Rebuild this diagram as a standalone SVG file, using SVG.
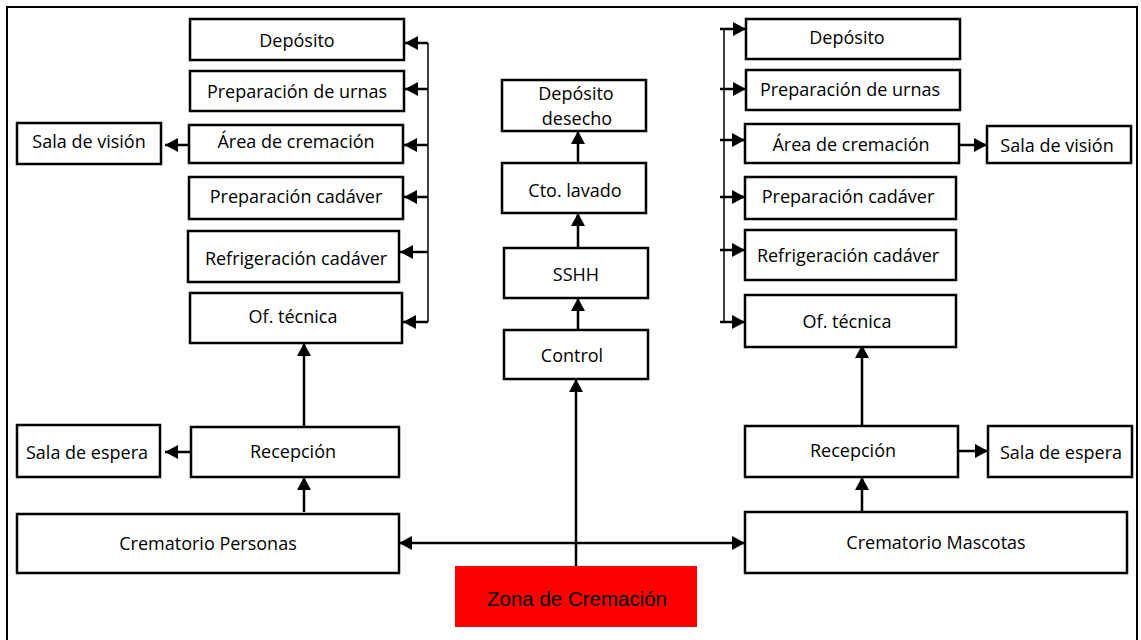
<svg xmlns="http://www.w3.org/2000/svg" width="1141" height="640" viewBox="0 0 1141 640">
<defs>
<style>
.box{fill:#fff;stroke:#000;stroke-width:2.5}
.t{font-family:"Open Sans","Noto Sans",sans-serif;font-size:18px;fill:#000;text-anchor:middle}
.z{font-family:"Liberation Sans",Arial,sans-serif;font-size:20.5px;fill:#000;text-anchor:middle}
.ln{fill:none;stroke:#000;stroke-width:2.5}
.thin{fill:none;stroke:#000;stroke-width:1.5}
</style>
<marker id="ah" markerUnits="userSpaceOnUse" markerWidth="14" markerHeight="14" refX="13" refY="7" orient="auto-start-reverse" viewBox="0 0 14 14">
<path d="M0,0 L13,7 L0,14 z" fill="#000"/>
</marker>
</defs>
<rect width="1141" height="640" fill="#fff"/>
<rect x="7" y="7" width="1130" height="650" fill="none" stroke="#000" stroke-width="2"/>

<g id="connectors">
<line class="thin" x1="428" y1="43" x2="428" y2="322"/>
<line class="ln" x1="428" y1="43" x2="405" y2="43" marker-end="url(#ah)"/>
<line class="ln" x1="428" y1="89" x2="405" y2="89" marker-end="url(#ah)"/>
<line class="ln" x1="428" y1="145" x2="404" y2="145" marker-end="url(#ah)"/>
<line class="ln" x1="428" y1="197" x2="404" y2="197" marker-end="url(#ah)"/>
<line class="ln" x1="428" y1="252" x2="400" y2="252" marker-end="url(#ah)"/>
<line class="ln" x1="428" y1="322" x2="403" y2="322" marker-end="url(#ah)"/>
<line class="ln" x1="189" y1="145" x2="165" y2="145" marker-end="url(#ah)"/>
<line class="thin" x1="724" y1="29" x2="724" y2="322"/>
<line class="ln" x1="720" y1="29" x2="746" y2="29" marker-end="url(#ah)"/>
<line class="ln" x1="720" y1="89" x2="746" y2="89" marker-end="url(#ah)"/>
<line class="ln" x1="720" y1="140" x2="745" y2="140" marker-end="url(#ah)"/>
<line class="ln" x1="720" y1="197" x2="745" y2="197" marker-end="url(#ah)"/>
<line class="ln" x1="720" y1="250" x2="745" y2="250" marker-end="url(#ah)"/>
<line class="ln" x1="720" y1="322" x2="745" y2="322" marker-end="url(#ah)"/>
<line class="ln" x1="959" y1="145" x2="987" y2="145" marker-end="url(#ah)"/>
<line class="ln" x1="578" y1="163" x2="578" y2="131" marker-end="url(#ah)"/>
<line class="ln" x1="578" y1="248" x2="578" y2="213" marker-end="url(#ah)"/>
<line class="ln" x1="578" y1="330" x2="578" y2="298" marker-end="url(#ah)"/>
<line class="ln" x1="576" y1="566" x2="576" y2="379" marker-end="url(#ah)"/>
<line class="ln" x1="304" y1="427" x2="304" y2="343" marker-end="url(#ah)"/>
<line class="ln" x1="304" y1="512" x2="304" y2="477" marker-end="url(#ah)"/>
<line class="ln" x1="191" y1="452" x2="165" y2="452" marker-end="url(#ah)"/>
<line class="ln" x1="862" y1="426" x2="862" y2="345" marker-end="url(#ah)"/>
<line class="ln" x1="862" y1="512" x2="862" y2="477" marker-end="url(#ah)"/>
<line class="ln" x1="958" y1="451" x2="988" y2="451" marker-end="url(#ah)"/>
<line class="ln" x1="399" y1="543" x2="745" y2="543" marker-start="url(#ah)" marker-end="url(#ah)"/>
</g>

<g id="l-deposito"><rect class="box" x="190" y="19" width="214" height="41"/><text class="t" x="297" y="47">Depósito</text></g>
<g id="l-urnas"><rect class="box" x="190" y="71" width="214" height="40"/><text class="t" x="297" y="98">Preparación de urnas</text></g>
<g id="l-area"><rect class="box" x="189" y="125" width="214" height="38"/><text class="t" x="296" y="148">Área de cremación</text></g>
<g id="l-prepcad"><rect class="box" x="189" y="177" width="214" height="42"/><text class="t" x="296" y="203">Preparación cadáver</text></g>
<g id="l-refrig"><rect class="box" x="188" y="231" width="211" height="51"/><text class="t" x="296" y="265">Refrigeración cadáver</text></g>
<g id="l-oftec"><rect class="box" x="190" y="293" width="212" height="50"/><text class="t" x="293" y="323">Of. técnica</text></g>
<g id="l-salavision"><rect class="box" x="17" y="123" width="144" height="41"/><text class="t" x="89" y="148">Sala de visión</text></g>

<g id="r-deposito"><rect class="box" x="746" y="19" width="214" height="40"/><text class="t" x="847" y="44">Depósito</text></g>
<g id="r-urnas"><rect class="box" x="746" y="70" width="214" height="40"/><text class="t" x="850" y="96">Preparación de urnas</text></g>
<g id="r-area"><rect class="box" x="745" y="124" width="214" height="39"/><text class="t" x="851" y="151">Área de cremación</text></g>
<g id="r-prepcad"><rect class="box" x="745" y="177" width="211" height="42"/><text class="t" x="848" y="203">Preparación cadáver</text></g>
<g id="r-refrig"><rect class="box" x="745" y="230" width="211" height="50"/><text class="t" x="848" y="262">Refrigeración cadáver</text></g>
<g id="r-oftec"><rect class="box" x="745" y="295" width="211" height="52"/><text class="t" x="847" y="328">Of. técnica</text></g>
<g id="r-salavision"><rect class="box" x="987" y="126" width="144" height="37"/><text class="t" x="1057" y="152">Sala de visión</text></g>

<g id="c-desecho"><rect class="box" x="502" y="80" width="144" height="51"/><text class="t" x="576" y="100">Depósito</text><text class="t" x="577" y="125">desecho</text></g>
<g id="c-lavado"><rect class="box" x="502" y="163" width="144" height="50"/><text class="t" x="575" y="197">Cto. lavado</text></g>
<g id="c-sshh"><rect class="box" x="504" y="248" width="144" height="50"/><text class="t" x="576" y="281">SSHH</text></g>
<g id="c-control"><rect class="box" x="504" y="330" width="144" height="49"/><text class="t" x="572" y="362">Control</text></g>

<g id="l-recepcion"><rect class="box" x="191" y="427" width="208" height="50"/><text class="t" x="293" y="458">Recepción</text></g>
<g id="l-espera"><rect class="box" x="17" y="425" width="143" height="52"/><text class="t" x="87" y="459">Sala de espera</text></g>
<g id="crem-personas"><rect class="box" x="17" y="514" width="382" height="59"/><text class="t" x="208" y="550">Crematorio Personas</text></g>

<g id="r-recepcion"><rect class="box" x="745" y="426" width="213" height="51"/><text class="t" x="853" y="457">Recepción</text></g>
<g id="r-espera"><rect class="box" x="988" y="426" width="144" height="51"/><text class="t" x="1061" y="459">Sala de espera</text></g>
<g id="crem-mascotas"><rect class="box" x="745" y="512" width="382" height="61"/><text class="t" x="936" y="549">Crematorio Mascotas</text></g>

<g id="zona"><rect x="455" y="566" width="242" height="61" fill="#ff0000"/><text class="z" x="577" y="606">Zona de Cremación</text></g>
</svg>
